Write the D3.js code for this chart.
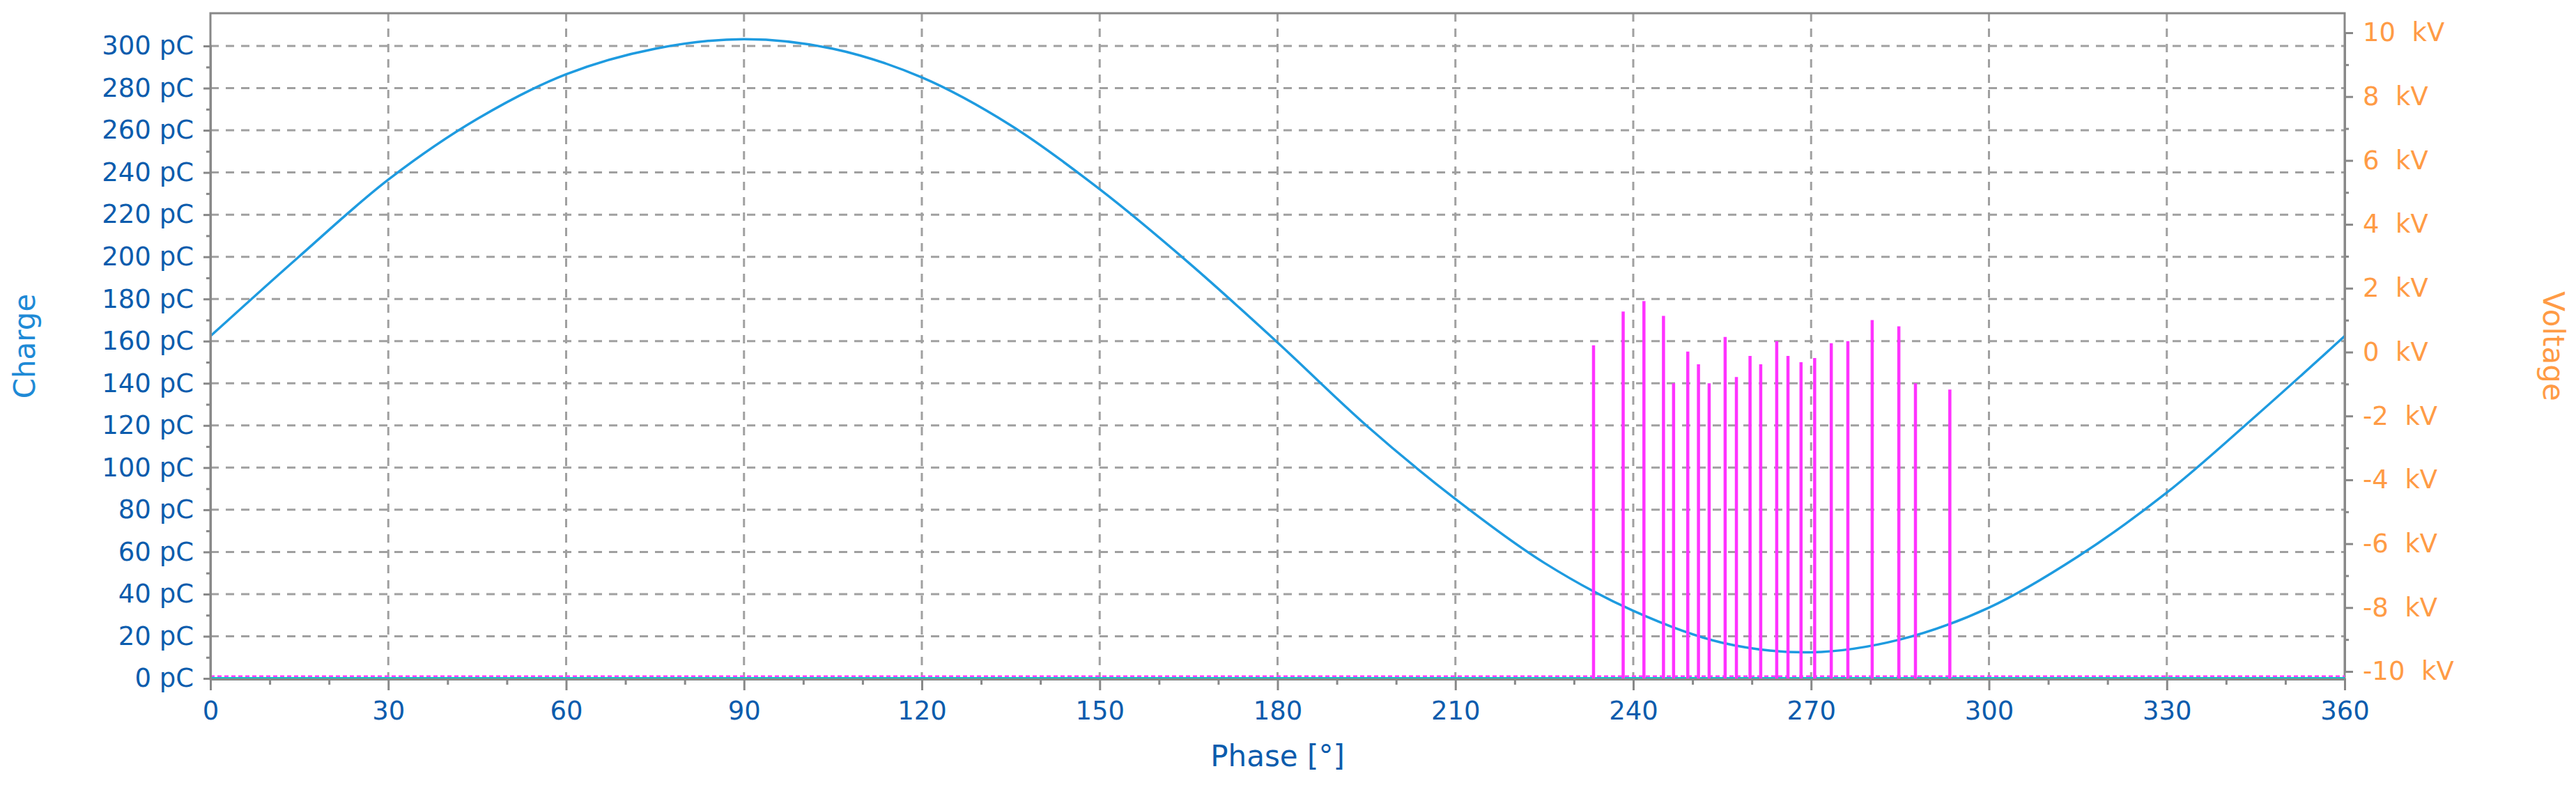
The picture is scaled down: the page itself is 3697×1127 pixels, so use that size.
<!DOCTYPE html>
<html><head><meta charset="utf-8">
<script src="https://cdn.jsdelivr.net/npm/d3@7"></script>
<style>body{margin:0;background:#fff}</style></head>
<body><svg id="c" width="3697" height="1127"></svg>
<script>
const chargeTicks = d3.range(0, 301, 20);
const phaseTicks = d3.range(0, 361, 30);
const voltTicks = d3.range(-10, 11, 2);
const pulsePhase = [233.3,238.3,241.8,245.1,246.8,249.2,251.0,252.8,255.5,257.4,259.7,261.5,264.2,266.1,268.3,270.6,273.4,276.2,280.3,284.8,287.6,293.4];
const pulseCharge = [158,174,179,172,140,155,149,140,162,143,153,149,160,153,150,152,159,160,170,167,140,137];
const voltPhase = [0,15,30,45,60,75,90,105,120,135,150,165,180,195,210,225,240,255,270,285,300,315,330,345,360];
const voltValue = [0.5,3.0,5.4,7.3,8.7,9.5,9.8,9.5,8.6,7.1,5.1,2.8,0.3,-2.3,-4.6,-6.6,-8.1,-9.1,-9.4,-9.0,-8.0,-6.4,-4.4,-2.0,0.5];

const L=302,R=3365,T=19,B=975;
const svg=d3.select("#c");
const x=d3.scaleLinear().domain([0,360]).range([L,R]);
const y=d3.scaleLinear().domain([0,300]).range([974,66]);
const yv=d3.scaleLinear().domain([-10,10]).range([964,47]);
const blue="#0b5cad", orange="#ff9b45", grid="#a0a0a0";
const font="DejaVu Sans, Verdana, sans-serif";

svg.append("g").selectAll("line").data(chargeTicks.slice(1)).join("line")
 .attr("x1",L).attr("x2",R).attr("y1",d=>y(d)).attr("y2",d=>y(d))
 .attr("stroke",grid).attr("stroke-width",3).attr("stroke-dasharray","12,10");
svg.append("g").selectAll("line").data(phaseTicks.slice(1,-1)).join("line")
 .attr("x1",d=>x(d)).attr("x2",d=>x(d)).attr("y1",T).attr("y2",B)
 .attr("stroke",grid).attr("stroke-width",3).attr("stroke-dasharray","12,10");
svg.append("rect").attr("x",L).attr("y",T).attr("width",R-L).attr("height",B-T)
 .attr("fill","none").attr("stroke","#888").attr("stroke-width",3);

svg.append("line").attr("x1",L).attr("x2",R).attr("y1",y(1)).attr("y2",y(1))
 .attr("stroke","#ff40ff").attr("stroke-width",3).attr("stroke-dasharray","6,4");
svg.append("line").attr("x1",L).attr("x2",R).attr("y1",y(0)).attr("y2",y(0))
 .attr("stroke","#11c6c6").attr("stroke-width",4);

svg.append("path").datum(voltPhase.map((p,i)=>[p,voltValue[i]]))
 .attr("d",d3.line().x(d=>x(d[0])).y(d=>yv(d[1])).curve(d3.curveCatmullRom))
 .attr("fill","none").attr("stroke","#1e9be0").attr("stroke-width",3.5);

svg.append("g").selectAll("line").data(pulsePhase).join("line")
 .attr("x1",d=>x(d)).attr("x2",d=>x(d)).attr("y1",y(0)).attr("y2",(d,i)=>y(pulseCharge[i]))
 .attr("stroke","#ff33ff").attr("stroke-width",4.5);

const ax=(g,col)=>{g.selectAll("path").attr("stroke","#888").attr("stroke-width",3);
 g.selectAll("line").attr("stroke","#888").attr("stroke-width",3);
 g.selectAll("text").attr("fill",col).style("font-family",font).style("font-size","37px");};
svg.append("g").attr("transform",`translate(${L},0)`).call(d3.axisLeft(y).tickValues(chargeTicks).tickFormat(d=>d+" pC").tickSize(10).tickPadding(14)).call(g=>ax(g,blue));
svg.append("g").attr("transform",`translate(${L},0)`).call(d3.axisLeft(y).tickValues(d3.range(10,300,20)).tickFormat("").tickSize(6)).call(g=>ax(g,blue)).select(".domain").remove();
svg.append("g").attr("transform",`translate(0,${B})`).call(d3.axisBottom(x).tickValues(phaseTicks).tickSize(16).tickPadding(16)).call(g=>ax(g,blue));
svg.append("g").attr("transform",`translate(0,${B})`).call(d3.axisBottom(x).tickValues(d3.range(10,360,10).filter(d=>d%30)).tickFormat("").tickSize(8)).call(g=>ax(g,blue)).select(".domain").remove();
svg.append("g").attr("transform",`translate(${R},0)`).call(d3.axisRight(yv).tickValues(voltTicks).tickFormat(d=>d+"\u00a0 kV").tickSize(12).tickPadding(14)).call(g=>ax(g,orange));
svg.append("g").attr("transform",`translate(${R},0)`).call(d3.axisRight(yv).tickValues(d3.range(-9,10,2)).tickFormat("").tickSize(6)).call(g=>ax(g,orange)).select(".domain").remove();

svg.append("text").attr("transform",`translate(50,${(T+B)/2}) rotate(-90)`).attr("text-anchor","middle")
 .attr("fill","#1e8ad6").style("font-family",font).style("font-size","42px").text("Charge");
svg.append("text").attr("transform",`translate(3650,${(T+B)/2}) rotate(90)`).attr("text-anchor","middle")
 .attr("fill",orange).style("font-family",font).style("font-size","42px").text("Voltage");
svg.append("text").attr("x",(L+R)/2).attr("y",1100).attr("text-anchor","middle")
 .attr("fill",blue).style("font-family",font).style("font-size","42px").text("Phase [°]");
</script></body></html>
